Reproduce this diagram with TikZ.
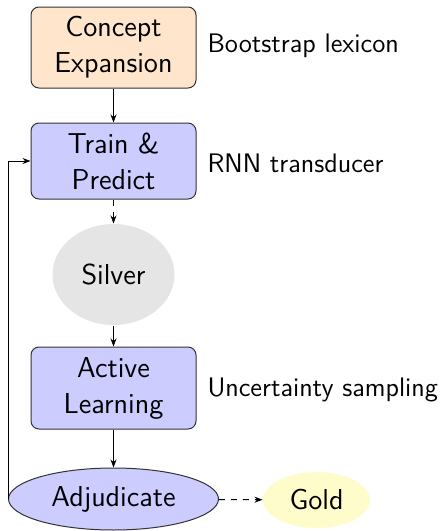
\documentclass[tikz,border=0pt]{standalone}
\usepackage{tikz}
\usetikzlibrary{arrows.meta,shapes.geometric}

\begin{document}
\begin{tikzpicture}[x=0.5pt, y=-0.5pt, line width=0.5pt, >={Stealth[length=4pt,width=3pt]},
  stagebox/.style={draw=black!80, rounded corners=4pt, align=center, inner sep=2pt,
    minimum width=82.5pt, font=\Large\sffamily},
  pool/.style={ellipse, inner sep=1pt, align=center, font=\Large\sffamily},
  note/.style={anchor=west, inner sep=0pt, font=\fontsize{13.4}{16}\selectfont\sffamily}]

  %% ════ 流程框 ════
  \node[stagebox, fill=orange!20, minimum height=40.5pt] (concept) at (113.5,47.5) {Concept\\Expansion};
  \node[stagebox, fill=blue!20, minimum height=38pt] (train) at (113.5,161) {Train \&\\Predict};
  \node[pool, fill=gray!20, minimum width=61pt, minimum height=50.5pt] (silver) at (113.5,274.5) {Silver};
  \node[stagebox, fill=blue!20, minimum height=41pt] (active) at (113.5,388) {Active\\Learning};
  \node[pool, draw=black!80, fill=blue!20, minimum width=105pt, minimum height=31pt] (adj) at (113.5,499) {Adjudicate};
  \node[pool, fill=yellow!20, minimum width=53.5pt, minimum height=28pt] (gold) at (316.5,500) {Gold};

  %% ════ 旁注 ════
  \node[note] (lexicon) at (207,46) {Bootstrap lexicon};
  \node[note] (rnn) at (207,163) {RNN transducer};
  \node[note] (sampling) at (207,390) {Uncertainty sampling};

  %% ════ 连线 ════
  \draw[->] (concept) -- (train);
  \draw[->, dashed] (train) -- (silver);
  \draw[->] (silver) -- (active);
  \draw[->] (active) -- (adj);
  \draw[->, dashed] (adj) -- (gold);
  \draw[->] (adj.west) |- (train.west);

  % 钉死画布
  \pgfresetboundingbox
  \path[use as bounding box] (0,0) rectangle (444,531);
\end{tikzpicture}
\end{document}
